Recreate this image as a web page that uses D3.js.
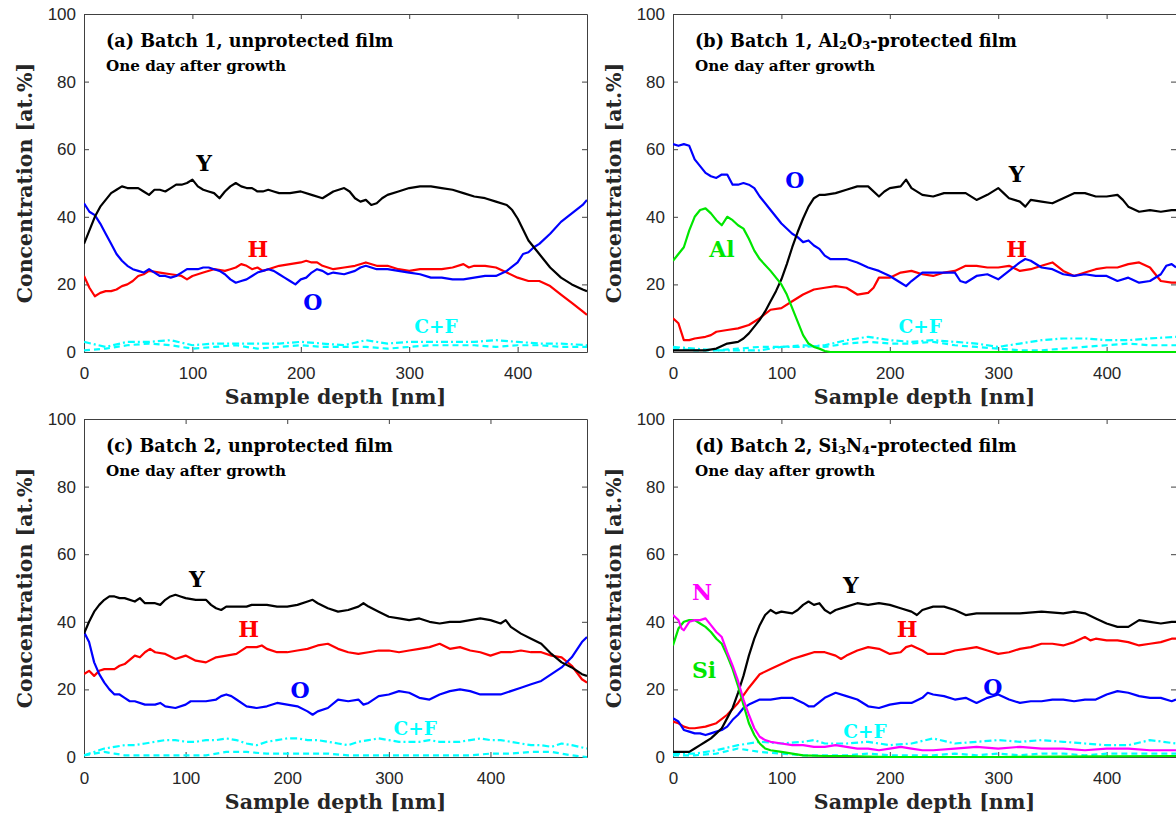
<!DOCTYPE html>
<html>
<head>
<meta charset="utf-8">
<script src="https://cdn.jsdelivr.net/npm/d3@7"></script>
<style>
  body { margin: 0; background: #fff; }
</style>
</head>
<body>
<div id="chart"></div>
<script>
// ---- data: [depth nm, concentration at.%] ----
const depthTicks = [0, 100, 200, 300, 400];
const concTicks = [0, 20, 40, 60, 80, 100];

// (a) Batch 1, unprotected
const aY = [[0,32],[5,36],[10,40],[15,43],[20,45],[25,47],[30,48],[35,49],[40,48.5],[50,48.5],[55,47.5],[60,46.5],[65,48],[70,48],[75,47.5],[80,48.5],[85,49.5],[90,49.5],[95,50],[100,51],[105,49],[110,48],[115,47.5],[120,47],[125,45.5],[130,47.5],[135,49],[140,50],[145,49],[150,48.5],[155,48.5],[160,47.5],[165,47.5],[170,48],[175,47.5],[180,47],[190,47],[200,47.5],[210,46.5],[220,45.5],[230,47.5],[240,48.5],[245,47.5],[250,45.5],[255,44.5],[260,45],[265,43.5],[270,44],[275,45.5],[280,46.5],[290,47.5],[300,48.5],[310,49],[320,49],[330,48.5],[340,48],[350,47],[360,46],[370,45.5],[380,44.5],[390,43.5],[395,42],[400,39.5],[410,33],[420,29],[430,25],[440,22],[450,20],[460,18.5],[464,18]];
const aH = [[0,22.5],[5,19],[10,16.5],[15,17.5],[20,18],[25,18],[30,18.5],[35,19.5],[40,20],[45,21],[50,22.5],[55,23],[60,24],[70,23.5],[80,23],[90,22.5],[95,21.5],[100,22.5],[110,23.5],[120,24.5],[130,24],[135,24.5],[140,25],[145,26],[150,25.5],[155,24.5],[160,25],[165,24],[170,24.5],[180,25.5],[190,26],[200,26.5],[205,27],[210,26.5],[215,26.5],[220,25.5],[230,24.5],[240,25],[250,25.5],[260,26.5],[270,25.5],[280,25.5],[290,24.5],[300,24],[310,24.5],[320,24.5],[330,24.5],[340,25],[350,26],[355,25],[360,25.5],[370,25.5],[380,25],[390,23.5],[400,22],[410,21],[420,21],[430,19.5],[440,17],[450,14.5],[460,12],[464,11]];
const aO = [[0,44],[5,41.5],[10,40.5],[15,38],[20,35],[25,32],[30,29],[35,27],[40,25.5],[45,24.5],[50,24],[55,23.5],[60,24.5],[65,23.5],[70,22.5],[75,22.5],[80,22],[85,22.5],[90,23.5],[95,24.5],[100,24.5],[105,24.5],[110,25],[115,25],[120,24.5],[125,24],[130,23],[135,21.5],[140,20.5],[145,21],[150,21.5],[155,22.5],[160,23.5],[165,24],[170,24.5],[175,24],[180,23],[185,22],[190,21],[195,20],[200,21.5],[205,22],[210,23.5],[215,24.5],[220,24],[225,23],[230,23.5],[240,23],[250,24],[255,25],[260,25.5],[265,25],[270,24.5],[280,24.5],[290,24],[300,23.5],[310,23],[320,22],[330,22],[340,21.5],[350,21.5],[360,22],[370,22.5],[380,22.5],[390,24],[400,26.5],[405,29],[410,29.5],[415,31],[420,32],[430,35],[440,38.5],[450,41],[460,43.5],[464,45]];
const aCdash = [[0,0.5],[20,1],[40,2],[60,2.5],[80,2],[100,1],[120,1.5],[140,2],[160,1],[180,1.5],[200,2],[220,1.5],[240,1.5],[260,1.5],[280,1],[300,1.5],[320,2],[340,2],[360,2],[380,1.5],[400,2],[420,2],[440,1.5],[464,1.5]];
const aCdot = [[0,3],[20,1.5],[40,3],[60,3],[80,3.5],[100,2],[120,2.5],[140,2.5],[160,2.5],[180,2.5],[200,3],[220,2.5],[240,2],[260,3.5],[280,2.5],[300,3],[320,3],[340,3],[360,3],[380,3.5],[400,3],[420,2.5],[440,2.5],[464,2]];

// (b) Batch 1, Al2O3-protected
const bY = [[0,0.5],[10,0.5],[20,0.5],[30,0.5],[40,1],[50,2.5],[60,3],[65,4],[70,5.5],[75,7.5],[80,9.5],[85,12],[90,15],[95,18],[100,21.5],[105,26],[110,31],[115,35.5],[120,39.5],[125,43],[130,45.5],[135,46.5],[140,46.5],[150,47],[160,48],[170,49],[180,49],[190,46],[195,47.5],[200,48.5],[210,49],[215,51],[220,48.5],[230,46.5],[240,46],[250,47],[260,47],[270,47],[280,45],[290,46.5],[300,48.5],[305,47],[310,45.5],[320,44.5],[325,43],[330,45],[340,44.5],[350,44],[360,45.5],[370,47],[380,47],[390,46],[400,46],[410,46.5],[415,45],[420,43],[430,41.5],[440,42],[450,41.5],[460,42],[464,42]];
const bH = [[0,10],[5,8.5],[10,3.5],[15,3.5],[20,4],[30,4.5],[35,5],[40,6],[50,6.5],[60,7],[70,8],[80,10],[90,12.5],[100,13],[110,15],[120,17],[130,18.5],[140,19],[150,19.5],[160,19],[170,17],[180,17.5],[185,19],[190,22],[200,22],[210,23.5],[220,24],[230,23],[240,22.5],[250,23.5],[260,24],[270,25.5],[280,25.5],[290,25],[300,25],[310,25.5],[320,24],[330,24.5],[340,25.5],[350,26.5],[360,24],[370,22.5],[380,23.5],[390,24.5],[400,25],[410,25],[420,26],[430,26.5],[440,25],[450,21],[460,20.5],[464,20.5]];
const bO = [[0,61.5],[5,61],[10,61.5],[15,61],[20,57],[25,55],[30,53],[35,52],[40,51.5],[45,52.5],[50,52.5],[55,49.5],[60,49.5],[65,50],[70,49.5],[75,48.5],[80,46],[90,42],[100,38],[110,35],[115,34],[120,32.5],[125,33],[130,31.5],[135,30.5],[140,28.5],[145,27.5],[150,27.5],[160,27.5],[170,26.5],[180,25],[190,24],[200,22.5],[210,20.5],[215,19.5],[220,21],[230,23.5],[240,23.5],[250,23.5],[260,23.5],[265,21],[270,20.5],[280,22.5],[290,23],[300,21.5],[310,24],[320,26.5],[325,27.5],[330,27],[340,25],[350,24.5],[360,23],[370,22.5],[380,23],[390,22.5],[400,22.5],[410,21],[420,22],[430,20.5],[440,21],[450,23],[455,25.5],[460,26],[464,25]];
const bAl = [[0,27],[5,29],[10,31],[15,36],[20,40],[25,42],[30,42.5],[35,41],[40,39],[45,37.5],[50,40],[55,39],[60,37.5],[65,36.5],[70,33.5],[75,30],[80,27.5],[90,24],[100,20],[105,17],[110,13],[115,9],[120,5],[125,2.5],[130,1.5],[135,1],[140,0.3],[145,0],[464,0]];
const bCdash = [[0,1],[20,0.5],[40,0.5],[60,1],[80,1.5],[100,1.5],[120,2],[140,1.5],[160,2.5],[180,3],[200,2.5],[220,2.5],[240,3],[260,2],[280,1.5],[300,1],[320,0.5],[340,0.5],[360,1],[380,1.5],[400,2],[420,2.5],[440,2],[464,2]];
const bCdot = [[0,1.5],[20,1],[40,0.5],[60,0.5],[80,0.5],[100,1.5],[120,1.5],[140,2],[160,3.5],[180,4.5],[200,3.5],[220,3],[240,3.5],[260,3],[280,2.5],[300,1.5],[320,2.5],[340,3.5],[360,4],[380,4],[400,3.5],[420,3.5],[440,4],[464,4.5]];

// (c) Batch 2, unprotected
const cY = [[0,36.5],[5,40],[10,43],[15,45],[20,46.5],[25,47.5],[30,47.5],[35,47],[40,47],[50,46],[55,47],[60,45.5],[70,45.5],[75,45],[80,46.5],[85,47.5],[90,48],[95,47.5],[100,47],[110,46.5],[120,46.5],[125,45],[130,44],[135,43.5],[140,44.5],[150,44.5],[160,44.5],[165,45],[170,45],[180,45],[190,44.5],[200,44.5],[210,45],[220,46],[225,46.5],[230,45.5],[240,44],[250,43],[260,43.5],[270,44.5],[275,45.5],[280,44.5],[290,43],[300,41.5],[310,41],[320,40.5],[330,41],[340,40],[350,39.5],[360,40],[370,40],[380,40.5],[390,41],[400,40.5],[410,39.5],[415,40.5],[420,38.5],[430,36.5],[440,35],[450,33.5],[460,30.5],[470,28],[480,26.5],[490,24.5],[495,24]];
const cH = [[0,24.5],[5,25.5],[10,24],[15,25.5],[20,26],[30,26],[35,27],[40,27.5],[50,30],[55,29.5],[60,31],[65,32],[70,31],[80,30.5],[90,29],[100,30],[110,28.5],[120,28],[130,29.5],[140,30],[150,30.5],[160,32.5],[170,32.5],[175,33],[180,32],[190,31],[200,31],[210,31.5],[220,32],[230,33],[240,33.5],[250,32],[260,31],[270,30.5],[280,31],[290,31.5],[300,31.5],[310,31],[320,31.5],[330,32],[340,32.5],[350,33.5],[360,32],[370,32.5],[380,31.5],[390,31],[400,30],[410,31],[420,31],[430,31.5],[440,31],[450,31],[460,30],[470,29.5],[480,27],[490,23],[495,22]];
const cO = [[0,37],[5,34],[10,28],[15,24.5],[20,22],[25,20],[30,18.5],[35,18.5],[40,17.5],[45,16.5],[50,16.5],[60,15.5],[70,15.5],[75,16],[80,15],[90,14.5],[100,15.5],[105,16.5],[110,16.5],[120,16.5],[130,17],[135,18],[140,18.5],[145,18],[150,17],[160,15],[170,14.5],[180,15],[190,16],[200,15.5],[210,15],[220,13.5],[225,12.5],[230,13.5],[240,14.5],[250,17],[260,16.5],[270,17],[275,15.5],[280,16],[290,18],[300,18.5],[310,19.5],[320,19],[330,17.5],[340,17],[350,18.5],[360,19.5],[370,20],[380,19.5],[390,18.5],[400,18.5],[410,18.5],[420,19.5],[430,20.5],[440,21.5],[450,22.5],[460,24.5],[470,26.5],[480,29.5],[490,34],[495,35.5]];
const cCdash = [[0,0.5],[10,1],[20,1.5],[30,1],[40,0.5],[60,0.5],[80,0.5],[100,0.5],[120,0.5],[140,1.5],[160,1.5],[180,1],[200,1],[220,1],[240,1],[260,0.5],[280,0.5],[300,0.5],[320,0.5],[340,0.5],[360,0.5],[380,0.5],[400,1],[420,1],[440,1.5],[460,1.5],[470,1],[480,0.5],[495,0]];
const cCdot = [[0,0.5],[10,1.5],[20,2.5],[30,3],[40,3.5],[50,3.5],[60,4],[70,4.5],[80,5],[90,5],[100,4.5],[110,4.5],[120,5],[130,5],[140,5.5],[150,5],[160,4],[170,3.5],[180,4.5],[190,5],[200,5.5],[210,5.5],[220,5],[230,5],[240,4.5],[250,4],[260,3.5],[270,4.5],[280,5],[290,5.5],[300,5],[310,4.5],[320,4.5],[330,4.5],[340,5],[350,4.5],[360,4.5],[370,4.5],[380,5],[390,5.5],[400,5],[410,5],[420,4.5],[430,4],[440,3.5],[450,3.5],[460,3],[470,4],[480,3.5],[495,2.5]];

// (d) Batch 2, Si3N4-protected
const dY = [[0,1.5],[10,1.5],[15,1.5],[20,2.5],[25,3.5],[30,4.5],[35,5.5],[40,7],[45,8.5],[50,11.5],[55,14.5],[60,19],[65,24],[70,30],[75,35],[80,39],[85,42],[90,43.5],[95,42.5],[100,43],[110,42.5],[115,43.5],[120,45],[125,46],[130,45],[135,45.5],[140,43.5],[145,42.5],[150,43.5],[160,44.5],[170,45.5],[180,45],[190,45.5],[200,45],[210,44],[220,43],[225,42],[230,43.5],[240,44.5],[250,44.5],[260,43.5],[270,42],[280,42.5],[290,42.5],[300,42.5],[320,42.5],[340,43],[360,42.5],[370,43],[380,42.5],[390,41],[400,39.5],[410,38.5],[420,38.5],[430,40.5],[440,40],[450,39.5],[460,40],[464,40]];
const dH = [[0,10.5],[5,10],[10,9],[15,8.5],[20,8.5],[30,9],[40,10],[50,12.5],[60,16],[70,20.5],[80,24.5],[90,26],[100,27.5],[110,29],[120,30],[130,31],[140,31],[150,30],[155,29],[160,30],[170,31.5],[180,32.5],[190,32],[200,30.5],[210,31],[215,32.5],[220,33],[230,31.5],[235,30.5],[240,30.5],[250,30.5],[260,31.5],[270,32],[280,32.5],[290,31.5],[300,30.5],[310,31],[320,32],[330,32.5],[340,33.5],[350,33.5],[360,33],[370,34],[380,35.5],[385,34.5],[390,35],[400,34.5],[410,34.5],[420,34],[430,33],[440,33.5],[450,34],[460,35],[464,35]];
const dO = [[0,11.5],[5,10.5],[10,8],[15,7.5],[20,7],[25,7],[30,6.5],[35,7],[40,7.5],[45,8],[50,9],[55,11],[60,12.5],[65,14.5],[70,15.5],[80,17],[90,17],[100,17.5],[110,17.5],[120,16],[125,15],[130,15],[140,17.5],[150,19],[160,18],[170,17],[180,15],[190,14.5],[200,15.5],[210,16],[220,16],[230,17.5],[235,19],[240,18.5],[250,18],[260,17],[270,17.5],[280,16],[290,17.5],[300,18.5],[310,17],[320,16],[330,16.5],[340,16.5],[350,17],[360,17],[370,16.5],[380,17],[390,17],[400,18.5],[410,19.5],[420,19],[430,18],[440,17.5],[450,17.5],[460,16.5],[464,17]];
const dN = [[0,42],[5,40.5],[8,38],[10,37.5],[15,40],[20,40.5],[25,40.5],[30,41],[35,39],[40,37],[45,35.5],[50,31],[55,27],[60,22.5],[65,17],[70,12.5],[75,8.5],[80,6],[85,5],[90,4.5],[100,4],[110,3.5],[120,3.5],[130,3],[140,3],[150,3.5],[160,3],[170,2.5],[180,2.5],[190,2],[200,2.5],[210,3],[220,2.5],[230,2],[240,2],[260,2.5],[280,3],[300,2.5],[320,3],[340,2.5],[360,2.5],[380,2],[400,2.5],[420,2.5],[440,2],[464,2]];
const dSi = [[0,33],[5,38],[10,40],[15,40.5],[20,40.5],[25,39.5],[30,38.5],[35,37],[40,35],[45,33.5],[50,30],[55,26],[60,21],[65,15.5],[70,10],[75,6.5],[80,4],[85,2.5],[90,2],[100,1.5],[110,1],[120,0.5],[140,0.3],[160,0.3],[200,0],[300,0],[400,0.2],[464,0.3]];
const dCdash = [[0,0.5],[20,0.5],[40,1],[60,2.5],[80,1.5],[100,1],[120,0.5],[140,0.5],[160,0.5],[180,1],[200,0.5],[220,0.5],[240,0.5],[260,1],[280,0.5],[300,1],[320,0.5],[340,1],[360,1],[380,0.5],[400,1],[420,1],[440,1],[464,1]];
const dCdot = [[0,1],[20,1],[40,2],[60,3.5],[80,4.5],[100,4],[120,4.5],[130,5],[140,4],[160,4],[180,4.5],[200,3.5],[220,4],[240,5.5],[260,4],[280,4.5],[300,5],[320,4.5],[340,5],[360,4.5],[380,4],[400,3.5],[420,3.5],[440,5],[464,4]];

// ---- layout ----
const width = 1176;
const height = 820;
const plotW = 503;
const plotH = 338;

const colors = { Y: "#000000", H: "#ff0000", O: "#0000ff", C: "#00ffff", Al: "#00e600", Si: "#00e600", N: "#ff00ff" };
const serif = "'DejaVu Serif', serif";
const sans = "'Liberation Sans', Arial, sans-serif";

const panels = [
  { left: 84, top: 14, xmax: 464,
    title: [["(a) Batch 1, unprotected film"]],
    series: [[aCdash, "C", "6,4"], [aCdot, "C", "7,3,2,3"], [aH, "H"], [aO, "O"], [aY, "Y"]],
    labels: [["Y", 110.7, 53.6], ["H", 160.5, 28.1], ["O", 211, 12.4], ["C+F", 324.7, 5.6, true]] },
  { left: 673, top: 14, xmax: 464,
    title: [["(b) Batch 1, Al"], ["2", 1], ["O"], ["3", 1], ["-protected film"]],
    series: [[bCdash, "C", "6,4"], [bCdot, "C", "7,3,2,3"], [bH, "H"], [bO, "O"], [bY, "Y"], [bAl, "Al"]],
    labels: [["O", 112.5, 48.5], ["Y", 317, 50.3], ["Al", 45.2, 28.1], ["H", 317, 28.1], ["C+F", 228, 5.6, true]] },
  { left: 84, top: 419, xmax: 495,
    title: [["(c) Batch 2, unprotected film"]],
    series: [[cCdash, "C", "6,4"], [cCdot, "C", "7,3,2,3"], [cH, "H"], [cO, "O"], [cY, "Y"]],
    labels: [["Y", 111, 50.3], ["H", 162, 35.6], ["O", 212.6, 17.5], ["C+F", 326, 6.5, true]] },
  { left: 673, top: 419, xmax: 464,
    title: [["(d) Batch 2, Si"], ["3", 1], ["N"], ["4", 1], ["-protected film"]],
    series: [[dCdash, "C", "6,4"], [dCdot, "C", "7,3,2,3"], [dH, "H"], [dO, "O"], [dY, "Y"], [dSi, "Si"], [dN, "N"]],
    labels: [["N", 26.8, 46.4], ["Y", 164, 48.5], ["H", 216, 35.5], ["Si", 28.6, 23.4], ["O", 295, 18.3], ["C+F", 177, 5.6, true]] }
];

const svg = d3.select("#chart")
    .append("svg")
    .attr("width", width)
    .attr("height", height)
    .style("display", "block");

panels.forEach((p, i) => {
    const g = svg.append("g").attr("transform", `translate(${p.left},${p.top})`);

    const x = d3.scaleLinear().domain([0, p.xmax]).range([0, plotW]);
    const y = d3.scaleLinear().domain([0, 100]).range([plotH, 0]);

    // axes first (MATLAB layer = bottom), ticks inward on all four sides
    const axisStyle = sel => {
        sel.selectAll(".domain").attr("stroke", "#404040").attr("stroke-width", 1);
        sel.selectAll(".tick line").attr("stroke", "#404040");
        sel.selectAll("text").attr("fill", "#262626").style("font-family", sans).style("font-size", "17px");
    };
    g.append("g").attr("transform", `translate(0,${plotH})`)
        .call(d3.axisBottom(x).tickValues(depthTicks).tickSize(-5).tickSizeOuter(0).tickPadding(15))
        .call(axisStyle);
    g.append("g")
        .call(d3.axisTop(x).tickValues(depthTicks).tickSize(-5).tickSizeOuter(0).tickFormat(""))
        .call(axisStyle);
    g.append("g")
        .call(d3.axisLeft(y).tickValues(concTicks).tickSize(-5).tickSizeOuter(0).tickPadding(8))
        .call(axisStyle);
    g.append("g").attr("transform", `translate(${plotW},0)`)
        .call(d3.axisRight(y).tickValues(concTicks).tickSize(-5).tickSizeOuter(0).tickFormat(""))
        .call(axisStyle);

    g.append("clipPath").attr("id", "clip" + i)
        .append("rect").attr("width", plotW).attr("height", plotH + 2).attr("y", -1);

    const line = d3.line().x(d => x(d[0])).y(d => y(d[1]));

    const lines = g.append("g").attr("clip-path", `url(#clip${i})`);
    p.series.forEach(s => {
        lines.append("path")
            .datum(s[0])
            .attr("fill", "none")
            .attr("stroke", colors[s[1]])
            .attr("stroke-width", 2.2)
            .attr("stroke-linejoin", "round")
            .attr("stroke-dasharray", s[2] || null)
            .attr("d", line);
    });

    // panel title and subtitle
    const t = g.append("text")
        .attr("x", 22).attr("y", 33)
        .style("font-family", serif).style("font-weight", "bold").style("font-size", "17.6px")
        .attr("fill", "#000");
    p.title.forEach(seg => {
        const ts = t.append("tspan").text(seg[0]);
        if (seg[1]) ts.style("font-size", "11.5px").attr("dy", 2);
        else if (t.selectAll("tspan").size() > 1) ts.attr("dy", -2);
    });
    g.append("text")
        .attr("x", 22).attr("y", 57)
        .style("font-family", serif).style("font-weight", "bold").style("font-size", "15.2px")
        .attr("fill", "#000")
        .text("One day after growth");

    // element labels
    p.labels.forEach(l => {
        g.append("text")
            .attr("x", x(l[1])).attr("y", y(l[2]))
            .attr("text-anchor", "middle")
            .style("font-family", serif).style("font-weight", "bold")
            .style("font-size", l[3] ? "18.5px" : "22px")
            .attr("fill", l[0] === "C+F" ? colors.C : colors[l[0]])
            .text(l[0]);
    });

    // axis titles
    g.append("text")
        .attr("transform", `translate(-52,${plotH / 2}) rotate(-90)`)
        .attr("text-anchor", "middle")
        .style("font-family", serif).style("font-weight", "bold").style("font-size", "20.5px")
        .attr("fill", "#262626")
        .text("Concentration [at.%]");
    g.append("text")
        .attr("x", plotW / 2).attr("y", plotH + 52)
        .attr("text-anchor", "middle")
        .style("font-family", serif).style("font-weight", "bold").style("font-size", "20.5px")
        .attr("fill", "#262626")
        .text("Sample depth [nm]");
});
</script>
</body>
</html>
